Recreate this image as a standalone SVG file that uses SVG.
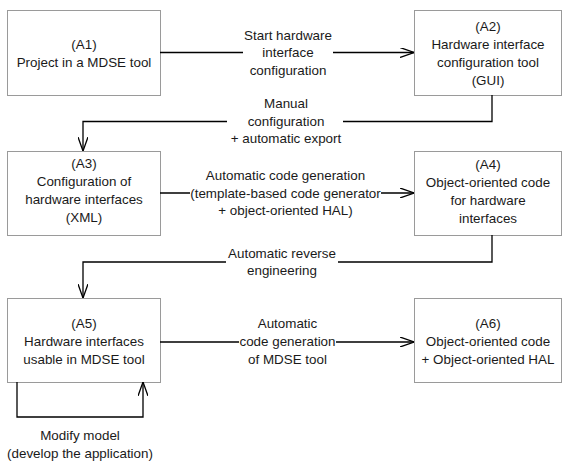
<svg xmlns="http://www.w3.org/2000/svg" width="562" height="461" viewBox="0 0 562 461">
<style>
.box{fill:#fff;stroke:#9a9a9a;stroke-width:1}
text{font-family:"Liberation Sans",Arial,sans-serif;font-size:13.4px;fill:#1a1a1a;text-anchor:middle}
.conn{fill:none;stroke:#000;stroke-width:1.3}
</style>
<defs>
<marker id="arr" viewBox="0 0 14 10" refX="14" refY="5" markerWidth="14" markerHeight="10" markerUnits="userSpaceOnUse" orient="auto">
<path d="M0,0 L14,5 L0,10" fill="none" stroke="#000" stroke-width="1.3"/>
</marker>
</defs>
<rect width="562" height="461" fill="#fff"/>
<g id="A1"><rect class="box" x="7.5" y="10.5" width="153" height="85"/>
<text x="84" y="49">(A1)</text><text x="84" y="67">Project in a MDSE tool</text></g>
<g id="A2"><rect class="box" x="414.5" y="10.5" width="147" height="85"/>
<text x="488" y="30.5">(A2)</text><text x="488" y="48.5">Hardware interface</text><text x="488" y="66.5">configuration tool</text><text x="488" y="84.5">(GUI)</text></g>
<g id="A3"><rect class="box" x="7.5" y="151.5" width="153" height="84"/>
<text x="84" y="168">(A3)</text><text x="84" y="186">Configuration of</text><text x="84" y="204">hardware interfaces</text><text x="84" y="222">(XML)</text></g>
<g id="A4"><rect class="box" x="414.5" y="151.5" width="147" height="84"/>
<text x="488" y="169">(A4)</text><text x="488" y="187">Object-oriented code</text><text x="488" y="205">for hardware</text><text x="488" y="223">interfaces</text></g>
<g id="A5"><rect class="box" x="7.5" y="298.5" width="153" height="84"/>
<text x="84" y="327.5">(A5)</text><text x="84" y="345.5">Hardware interfaces</text><text x="84" y="363.5">usable in MDSE tool</text></g>
<g id="A6"><rect class="box" x="414.5" y="298.5" width="147" height="84"/>
<text x="488" y="327.5">(A6)</text><text x="488" y="345.5">Object-oriented code</text><text x="488" y="363.5">+ Object-oriented HAL</text></g>
<g id="connectors">
<path class="conn" d="M160,52.5 H243 M333,52.5 H414" marker-end="url(#arr)"/>
<text x="288" y="39.5">Start hardware</text><text x="288" y="57">interface</text><text x="288" y="74.5">configuration</text>
<path class="conn" d="M492,95 V121.5 H343 M227,121.5 H83 V151" marker-end="url(#arr)"/>
<text x="286" y="107.5">Manual</text><text x="286" y="125.5">configuration</text><text x="286" y="143">+ automatic export</text>
<path class="conn" d="M160,193 H190 M381,193 H414" marker-end="url(#arr)"/>
<text x="285.5" y="179.5">Automatic code generation</text><text x="285.5" y="197.5">(template-based code generator</text><text x="285.5" y="215">+ object-oriented HAL)</text>
<path class="conn" d="M492,235 V262 H338 M226,262 H83 V298" marker-end="url(#arr)"/>
<text x="282" y="257.5">Automatic reverse</text><text x="282" y="274.5">engineering</text>
<path class="conn" d="M160,342 H239 M336,342 H414" marker-end="url(#arr)"/>
<text x="287.5" y="327.5">Automatic</text><text x="287.5" y="345.5">code generation</text><text x="287.5" y="363.5">of MDSE tool</text>
<path class="conn" d="M17,382 V417 H143 V382" marker-end="url(#arr)"/>
<text x="80" y="439.5">Modify model</text><text x="80" y="457.5">(develop the application)</text>
</g>
</svg>
